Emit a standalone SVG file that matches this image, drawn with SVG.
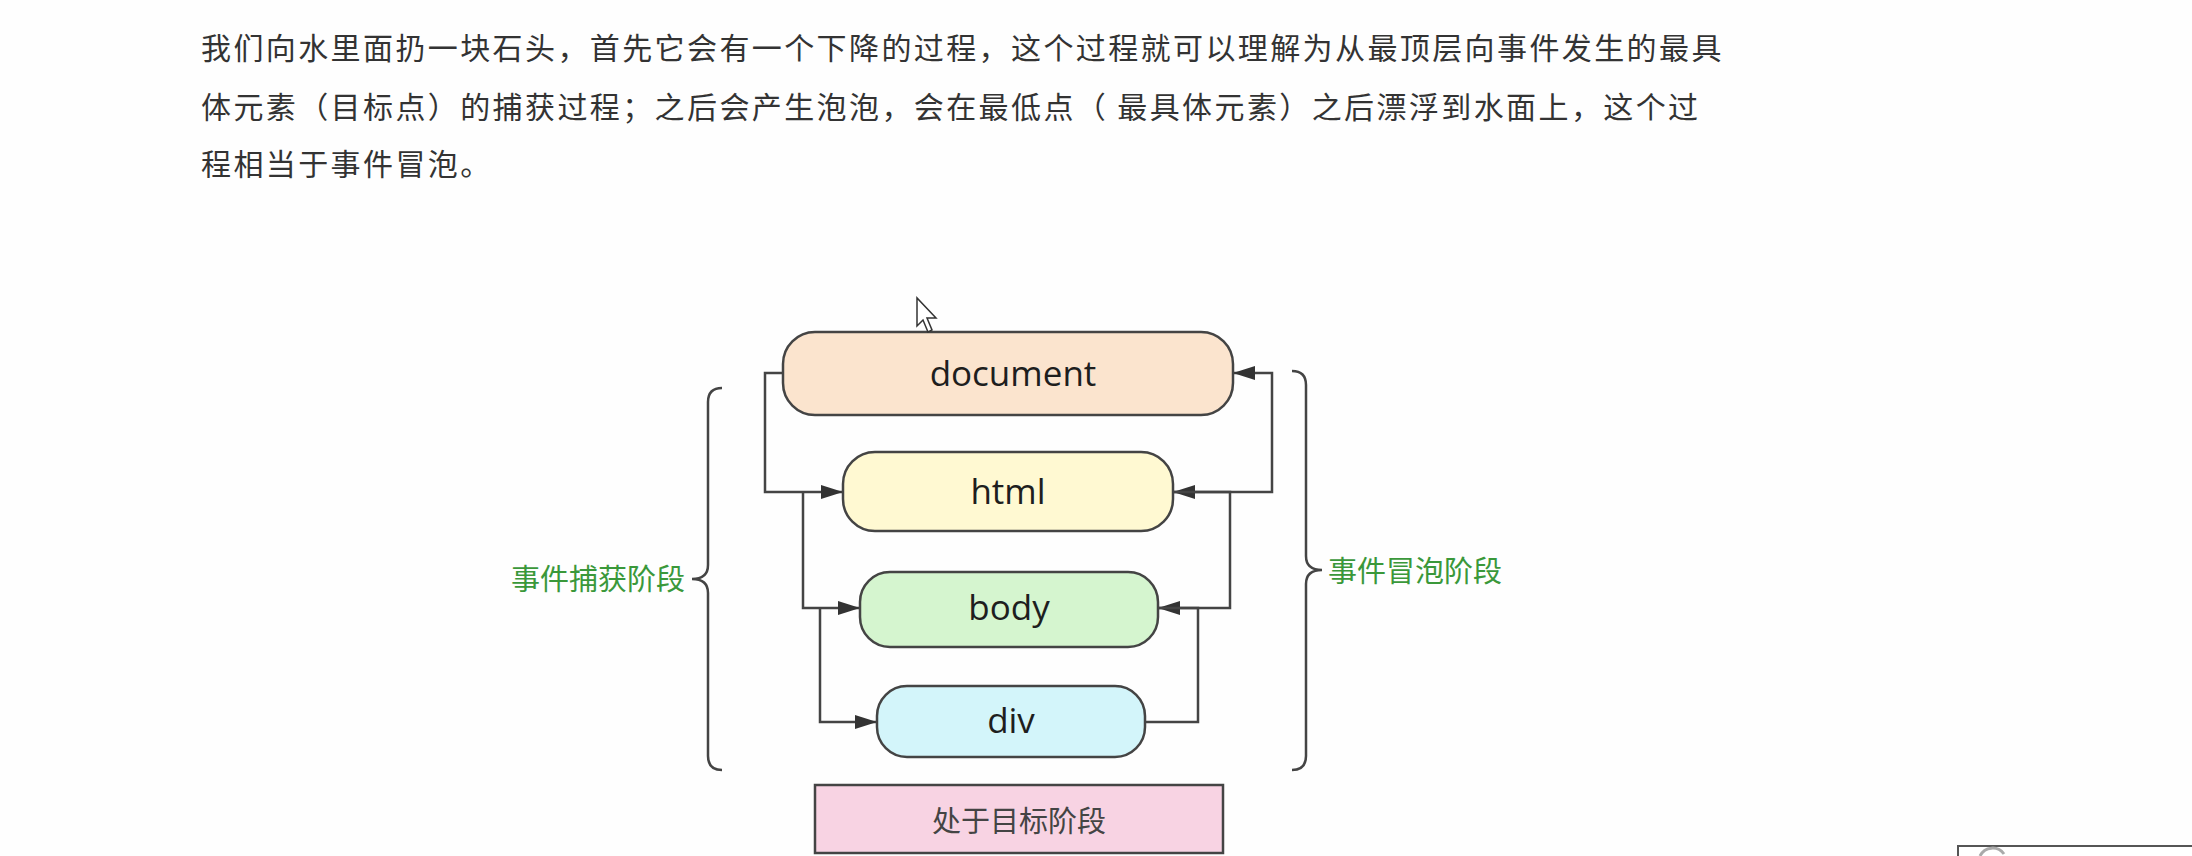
<svg xmlns="http://www.w3.org/2000/svg" width="2192" height="856" viewBox="0 0 2192 856">
<style>
.para{font-family:"Noto Sans CJK SC","Noto Sans",sans-serif;font-size:30px;fill:#333;letter-spacing:2.4px}
.node{stroke:#444;stroke-width:2.5}
.lbl{font-family:"Open Sans","Noto Sans",sans-serif;font-size:35px;fill:#1e1e1e;text-anchor:middle}
.cjk{font-family:"Noto Sans CJK SC",sans-serif;font-size:29px}
.green{fill:#3a983a}
.conn{fill:none;stroke:#444;stroke-width:2.5}
.brace{fill:none;stroke:#444;stroke-width:2.5}
</style>
<defs>
<marker id="arr" markerUnits="userSpaceOnUse" markerWidth="22" markerHeight="14" refX="22" refY="7" orient="auto">
<path d="M0,0 L22,7 L0,14 z" fill="#333"/>
</marker>
</defs>
<rect width="2192" height="856" fill="#fefefe"/>
<g id="paragraph">
<text class="para" x="201" y="59">我们向水里面扔一块石头，首先它会有一个下降的过程，这个过程就可以理解为从最顶层向事件发生的最具</text>
<text class="para" x="201" y="118">体元素（目标点）的捕获过程；之后会产生泡泡，会在最低点（ 最具体元素）之后漂浮到水面上，这个过</text>
<text class="para" x="201" y="175">程相当于事件冒泡。</text>
</g>
<g id="connectors">
<path class="conn" d="M784,373 H765 V492 H843" marker-end="url(#arr)"/>
<path class="conn" d="M803,492 V608 H860" marker-end="url(#arr)"/>
<path class="conn" d="M820,608 V722 H877" marker-end="url(#arr)"/>
<path class="conn" d="M1145,722 H1198 V608 H1158" marker-end="url(#arr)"/>
<path class="conn" d="M1158,608 H1230 V492 H1173" marker-end="url(#arr)"/>
<path class="conn" d="M1173,492 H1272 V373 H1233" marker-end="url(#arr)"/>
</g>
<g id="node-document">
<rect class="node" x="783" y="332" width="450" height="83" rx="32" fill="#fbe4ce"/>
<text class="lbl" x="1013" y="386">document</text>
</g>
<g id="node-html">
<rect class="node" x="843" y="452" width="330" height="79" rx="32" fill="#fff9d2"/>
<text class="lbl" x="1008" y="504">html</text>
</g>
<g id="node-body">
<rect class="node" x="860" y="572" width="298" height="75" rx="30" fill="#d5f5cf"/>
<text class="lbl" x="1009" y="620">body</text>
</g>
<g id="node-div">
<rect class="node" x="877" y="686" width="268" height="71" rx="30" fill="#d3f5fa"/>
<text class="lbl" x="1011" y="733">div</text>
</g>
<g id="node-target">
<rect class="node" x="815" y="785" width="408" height="68" fill="#f8d3e3"/>
<text class="cjk" x="1019" y="832" text-anchor="middle" fill="#444">处于目标阶段</text>
</g>
<g id="capture-brace">
<path class="brace" d="M722,388 Q708,388 708,402 V565 Q708,579 692,579 Q708,579 708,593 V756 Q708,770 722,770"/>
<text class="cjk green" x="685" y="590" text-anchor="end">事件捕获阶段</text>
</g>
<g id="bubble-brace">
<path class="brace" d="M1292,371 Q1306,371 1306,385 V556 Q1306,570 1322,570 Q1306,570 1306,584 V756 Q1306,770 1292,770"/>
<text class="cjk green" x="1328" y="582">事件冒泡阶段</text>
</g>
<g id="cursor">
<path d="M917,298 V326 L923,320 L928,332 L932,330 L927,318 L936,318 Z" fill="#fff" stroke="#333" stroke-width="1.5"/>
</g>
<g id="corner-widget">
<rect x="1958" y="846" width="240" height="20" fill="#fff" stroke="#555" stroke-width="2"/>
<path d="M1980,856 A14,14 0 0 1 2004,854" fill="none" stroke="#aaa" stroke-width="3"/>
</g>
</svg>
